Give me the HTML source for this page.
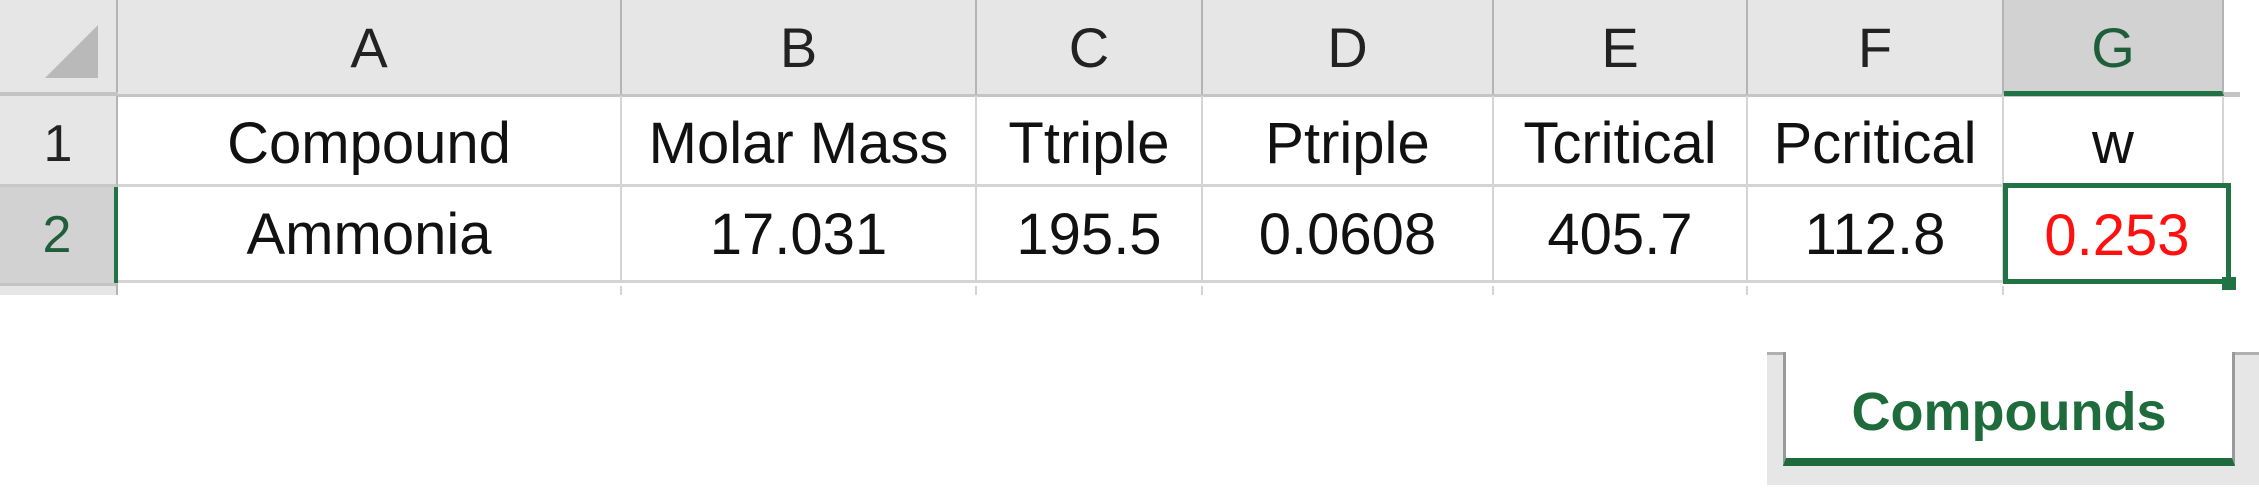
<!DOCTYPE html>
<html><head><meta charset="utf-8"><style>
body{margin:0;width:2259px;height:489px;background:#fff;position:relative;overflow:hidden;font-family:"Liberation Sans",sans-serif;}
div{position:absolute;box-sizing:border-box;}
.hdr{background:#e6e6e6;border-right:2px solid #b4b4b4;color:#222;font-size:56px;text-align:center;line-height:96px;top:0;height:94px;}
.cell{border-right:2px solid #d4d4d4;border-bottom:3px solid #d4d4d4;text-align:center;color:#111;font-size:58px;}
.r1{top:96px;height:91px;line-height:96px;}
.r2{top:187px;height:96px;line-height:96px;}
.rh{left:0;width:118px;background:#e6e6e6;border-right:2px solid #b4b4b4;color:#222;font-size:52px;text-align:center;}
</style></head><body>
<div style="left:0;top:0;width:118px;height:94px;background:#e6e6e6;border-right:2px solid #b4b4b4;"><svg width="118" height="94"><polygon points="98,25 98,78 45,78" fill="#b9b9b9"/></svg></div>
<div style="left:0;top:92px;width:2240px;height:5px;background:#c4c4c4;"></div>

<div class="hdr" style="left:118px;width:504px;">A</div>
<div class="hdr" style="left:622px;width:355px;">B</div>
<div class="hdr" style="left:977px;width:226px;">C</div>
<div class="hdr" style="left:1203px;width:291px;">D</div>
<div class="hdr" style="left:1494px;width:254px;">E</div>
<div class="hdr" style="left:1748px;width:256px;">F</div>
<div class="hdr" style="left:2004px;width:220px;background:#d2d2d2;color:#1e5e3a;border-bottom:5px solid #217346;height:96px;">G</div>

<div class="rh r1" style="border-bottom:3px solid #c8c8c8;">1</div>
<div class="rh r2" style="background:#d2d2d2;color:#1e5e3a;border-right:4px solid #217346;">2</div>
<div style="left:0;top:283px;width:118px;height:12px;background:#e6e6e6;border-top:3px solid #c4c4c4;border-right:2px solid #b4b4b4;"></div>

<div class="cell r1" style="left:118px;width:504px;">Compound</div>
<div class="cell r1" style="left:622px;width:355px;">Molar Mass</div>
<div class="cell r1" style="left:977px;width:226px;">Ttriple</div>
<div class="cell r1" style="left:1203px;width:291px;">Ptriple</div>
<div class="cell r1" style="left:1494px;width:254px;">Tcritical</div>
<div class="cell r1" style="left:1748px;width:256px;">Pcritical</div>
<div class="cell r1" style="left:2004px;width:220px;">w</div>

<div class="cell r2" style="left:118px;width:504px;">Ammonia</div>
<div class="cell r2" style="left:622px;width:355px;">17.031</div>
<div class="cell r2" style="left:977px;width:226px;">195.5</div>
<div class="cell r2" style="left:1203px;width:291px;">0.0608</div>
<div class="cell r2" style="left:1494px;width:254px;">405.7</div>
<div class="cell r2" style="left:1748px;width:256px;">112.8</div>
<div class="cell r2" style="left:2003px;width:228px;top:183px;height:101px;line-height:96px;border:5px solid #217346;color:#ff1010;">0.253</div>
<div style="left:2222px;top:277px;width:14px;height:13px;background:#217346;"></div>

<div style="left:118px;top:286px;width:2110px;height:9px;background:linear-gradient(90deg,transparent 502px,#d4d4d4 502px,#d4d4d4 504px,transparent 504px,transparent 857px,#d4d4d4 857px,#d4d4d4 859px,transparent 859px,transparent 1083px,#d4d4d4 1083px,#d4d4d4 1085px,transparent 1085px,transparent 1374px,#d4d4d4 1374px,#d4d4d4 1376px,transparent 1376px,transparent 1628px,#d4d4d4 1628px,#d4d4d4 1630px,transparent 1630px,transparent 1884px,#d4d4d4 1884px,#d4d4d4 1886px,transparent 1886px);"></div>

<div style="left:1767px;top:352px;width:492px;height:133px;background:#e6e6e6;border-top:3px solid #b0b0b0;"></div>
<div style="left:1783px;top:352px;width:452px;height:114px;background:#fff;border-left:3px solid #9a9a9a;border-right:3px solid #9a9a9a;border-bottom:8px solid #1e6b3c;color:#1e6b3c;font-family:'Liberation Sans',sans-serif;font-weight:bold;font-size:54px;text-align:center;line-height:120px;">Compounds</div>
</body></html>
